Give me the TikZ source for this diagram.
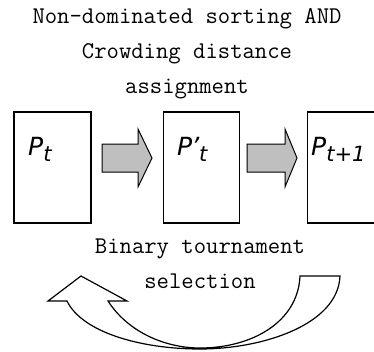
\documentclass[tikz,border=0pt]{standalone}
\usepackage{fontspec}
\newfontfamily\popfont{DejaVu Sans}
\usetikzlibrary{positioning}
\tikzset{
    %Define standard arrow tip
    >=stealth,
}

\begin{document}
\begin{tikzpicture}[x=1pt,y=-1pt]
	\tikzset{
	  pop/.style={draw,
	             line width=1.2pt,
		     minimum width=77pt,
		     minimum height=111pt,
		     inner sep=0pt},
	  poplabel/.style={font=\popfont\itshape\fontsize{25}{25}\selectfont,
	             inner sep=0pt, anchor=base west},
	  caption/.style={font=\ttfamily\fontsize{24}{35}\selectfont,
	             align=center, inner sep=0pt},
	  fatarrow/.style={draw, fill=black!25, line width=1pt, line join=miter},
	  bentarrow/.style={draw, fill=white, line width=1.2pt, line join=miter}
	}
	\useasboundingbox (0,0) rectangle (374,351);
	\clip (0,0) rectangle (374,351);

	\node [pop] (pt) at (52.5,167.5) {};
	\node [pop, right =71pt of pt, minimum width=76pt] (ptq) {};
	\node [pop, right =67pt of ptq] (ptn) {};

	\node [poplabel] (ptlab) at (28,155) {P\raisebox{-6pt}{\fontsize{21}{21}\selectfont t}};
	\node [poplabel] (ptqlab) at (177,155) {P\kern-1pt\textquoteright\raisebox{-6pt}{\fontsize{21}{21}\selectfont t}};
	\node [poplabel] (ptnlab) at (311,155) {P\raisebox{-6pt}{\fontsize{21}{21}\selectfont t+1}};

	% block arrows between populations
	\path [fatarrow] (102,144) -- (138,144) -- (138,129) -- (152,158)
	                 -- (138,187) -- (138,172) -- (102,172) -- cycle;
	\path [fatarrow] (247,144) -- (285,144) -- (285,129) -- (297,158)
	                 -- (285,187) -- (285,172) -- (247,172) -- cycle;

	\node [caption] (sorting) at (187,54) {Non-dominated sorting AND\\Crowding distance\\assignment};
	\node [caption] (selection) at (200,264) {Binary tournament\\selection};

	% curved arrow back to the start
	\path [bentarrow] (300,276) -- (340,276)
	      .. controls (338,325) and (262,349) .. (200,349)
	      .. controls (140,349) and (82,332) .. (67,301)
	      -- (48,301) -- (81,276) -- (127,301) -- (108,301)
	      .. controls (128,332) and (165,348) .. (200,348)
	      .. controls (252,348) and (298,322) .. (300,276) -- cycle;
\end{tikzpicture}
\end{document}
